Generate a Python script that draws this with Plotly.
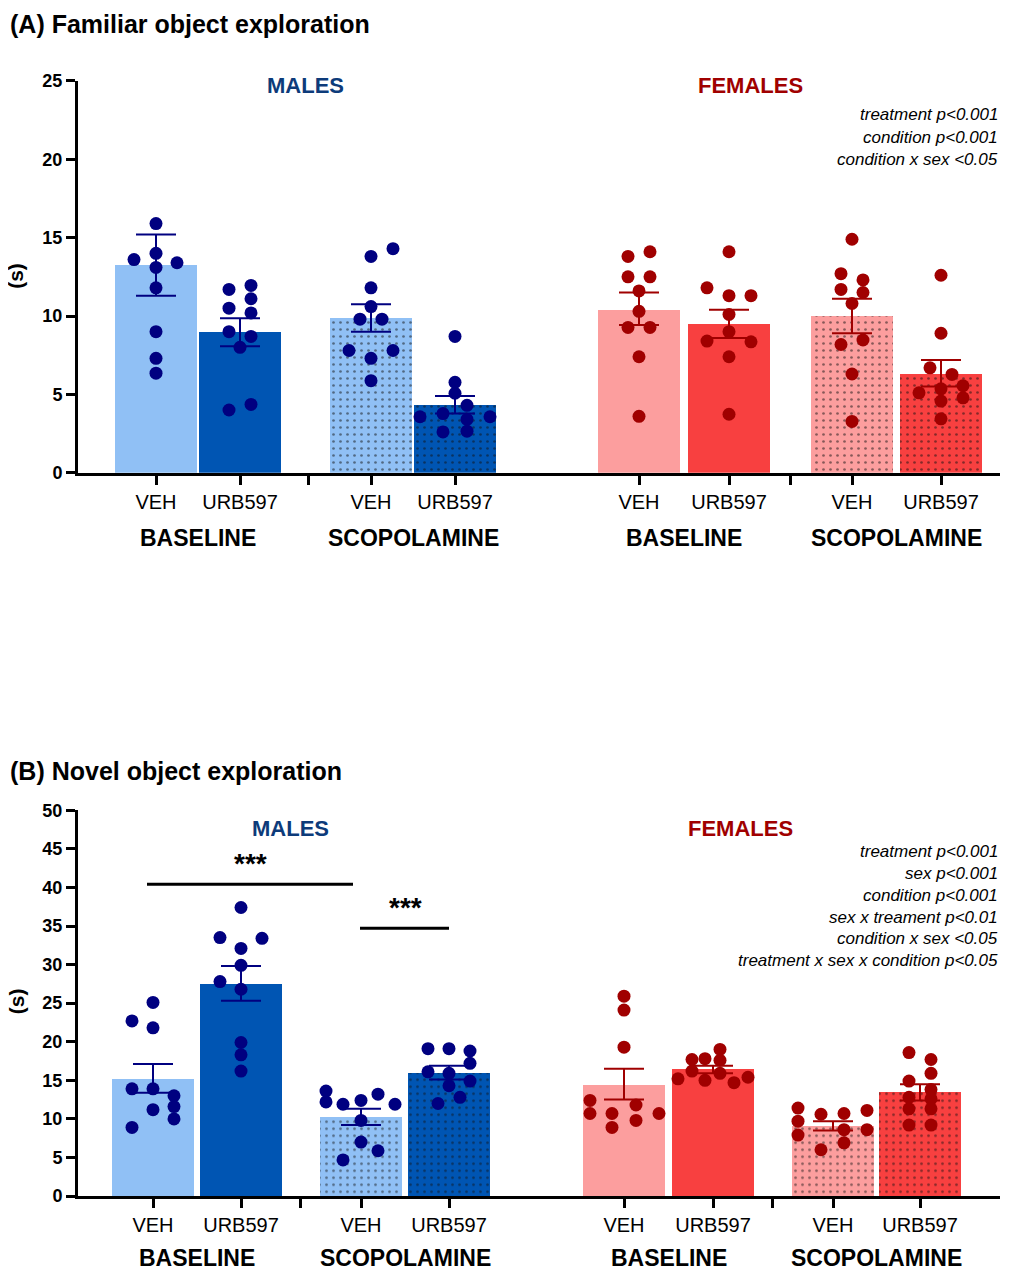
import plotly.graph_objects as go

# group order: M-BL-VEH, M-BL-URB, M-SC-VEH, M-SC-URB, F-BL-VEH, F-BL-URB, F-SC-VEH, F-SC-URB
groups = ["M_BL_VEH", "M_BL_URB", "M_SC_VEH", "M_SC_URB",
          "F_BL_VEH", "F_BL_URB", "F_SC_VEH", "F_SC_URB"]

# (A) familiar object exploration (s)
fam_mean = [13.25, 8.95, 9.85, 4.34, 10.4, 9.52, 9.98, 6.29]
fam_upper = [15.2, 9.85, 10.75, 4.9, 11.5, 10.4, 11.1, 7.19]
fam_lower = [11.3, 8.07, 9.0, 3.77, 9.43, 8.6, 8.9, 5.5]
fam_dots = [
    [15.9, 14.0, 13.6, 13.4, 13.1, 11.8, 9.0, 7.3, 6.35],
    [11.7, 11.95, 11.1, 10.5, 10.2, 9.0, 8.7, 8.0, 4.36, 4.0],
    [14.3, 13.8, 11.8, 10.6, 9.8, 9.8, 7.8, 7.8, 7.3, 5.87],
    [8.7, 5.77, 5.07, 4.3, 3.77, 3.57, 3.57, 3.4, 2.6, 2.65],
    [13.8, 14.1, 12.5, 12.5, 11.6, 10.3, 9.27, 9.27, 7.4, 3.6],
    [14.1, 11.8, 11.3, 11.3, 10.1, 9.0, 8.4, 8.35, 7.4, 3.73],
    [14.9, 12.7, 12.3, 11.7, 11.5, 10.8, 8.18, 8.47, 6.3, 3.27],
    [12.6, 8.9, 6.69, 6.27, 5.55, 5.35, 5.1, 4.78, 4.57, 3.44],
]
fam_jitter = [
    [0, 0, -22, 21, 0, 0, 0, 0, 0],
    [-11, 11, 11, -11, 11, -11, 11, 0, 11, -11],
    [22, 0, 0, 0, -11, 11, -22, 22, 0, 0],
    [0, 0, 0, 12, -12, -35, 35, 12, -12, 12],
    [-11, 11, -11, 11, 0, 0, -11, 11, 0, 0],
    [0, -22, 0, 22, 0, 0, -22, 22, 0, 0],
    [0, -11, 11, -11, 11, 0, -11, 11, 0, 0],
    [0, 0, -11, 11, 22, 0, -22, 22, 0, 0],
]

# (B) novel object exploration (s)
nov_mean = [15.2, 27.5, 10.2, 15.9, 14.4, 16.4, 9.1, 13.4]
nov_upper = [17.1, 29.8, 11.3, 16.9, 16.5, 16.9, 9.7, 14.5]
nov_lower = [13.4, 25.3, 9.2, 15.1, 12.5, 15.9, 8.5, 12.4]
nov_dots = [
    [25.1, 22.7, 21.8, 13.9, 13.9, 13.0, 11.6, 11.2, 10.0, 8.9],
    [37.4, 33.5, 33.4, 32.1, 29.9, 27.8, 26.8, 19.9, 18.3, 16.2],
    [13.6, 12.2, 11.9, 12.4, 13.2, 11.9, 9.8, 7.0, 5.87, 4.68],
    [19.1, 19.1, 18.8, 17.2, 16.1, 15.9, 14.9, 14.3, 12.8, 12.0],
    [25.9, 24.1, 19.3, 12.4, 10.7, 11.8, 10.7, 10.7, 9.8, 8.9],
    [19.0, 17.7, 17.8, 17.6, 16.2, 15.9, 15.2, 15.0, 15.4, 14.7],
    [11.4, 10.6, 10.7, 11.1, 9.7, 8.6, 8.6, 7.9, 6.9, 6.0],
    [18.6, 17.7, 15.9, 14.9, 13.8, 12.8, 12.6, 11.3, 11.3, 9.2, 9.2],
]
nov_jitter = [
    [0, -21, 0, -21, 0, 21, 21, 0, 21, -21],
    [0, -21, 21, 0, 0, -21, 0, 0, 0, 0],
    [-35, -35, -18, 0, 17, 34, 0, 0, 17, -18],
    [-21, 0, 21, 21, -21, 0, 21, 0, 11, -11],
    [0, 0, 0, -34, -34, 12, -12, 35, 12, -12],
    [7, -21, -8, 7, -21, 7, -35, -8, 35, 21],
    [-35, -12, 11, 34, -35, 11, 34, -35, 11, -12],
    [-11, 11, 11, -11, 11, -11, 11, -11, 11, -11, 11],
]

tick_text = ["VEH", "URB597"] * 4
cond_labels = ["BASELINE", "SCOPOLAMINE", "BASELINE", "SCOPOLAMINE"]
fam_stats = ["treatment p<0.001", "condition p<0.001", "condition x sex <0.05"]
nov_stats = ["treatment p<0.001", "sex p<0.001", "condition p<0.001",
             "sex x treament p<0.01", "condition x sex <0.05",
             "treatment x sex x condition p<0.05"]

bar_fill = ["#90c0f5", "#0055b3", "#90c0f5", "#0055b3",
            "#fc9e9e", "#f84040", "#fc9e9e", "#f84040"]
dot_col = ["#000080"] * 4 + ["#a00000"] * 4
dotted = [False, False, True, True, False, False, True, True]

# figure is placed inside an 8px page margin; layout coordinates below are page pixels
OFF = 8
FW, FH = 1030 - 2 * OFF, 1280 - 2 * OFF
fig = go.Figure()


def xfrac(px):
    return (px - OFF) / FW


def yfrac(px):
    return 1 - (px - OFF) / FH


def add_panel(xa, ya, centers, means, upper, lower, dots, jit):
    for i in range(8):
        fig.add_trace(go.Bar(
            x=[centers[i]], y=[means[i]], width=82, xaxis=xa, yaxis=ya,
            marker=dict(color=bar_fill[i], line=dict(width=0),
                        pattern=dict(shape="." if dotted[i] else "", fgcolor="#111111",
                                     size=7, solidity=0.12)),
            showlegend=False, hoverinfo="skip"))
    for i in range(8):
        fig.add_trace(go.Scatter(
            x=[centers[i] + j for j in jit[i]], y=dots[i], mode="markers",
            xaxis=xa, yaxis=ya, showlegend=False,
            marker=dict(color=dot_col[i], size=13)))
        fig.add_trace(go.Scatter(
            x=[centers[i]], y=[means[i]], mode="markers", xaxis=xa, yaxis=ya,
            marker=dict(size=0.1, color=dot_col[i]), showlegend=False,
            error_y=dict(type="data", symmetric=False,
                         array=[upper[i] - means[i]], arrayminus=[means[i] - lower[i]],
                         color=dot_col[i], thickness=2, width=20)))


top_centers = [156, 240, 371, 455, 639, 729, 852, 941]
bot_centers = [153, 241, 361, 449, 624, 713, 833, 920]
add_panel("x", "y", top_centers, fam_mean, fam_upper, fam_lower, fam_dots, fam_jitter)
add_panel("x2", "y2", bot_centers, nov_mean, nov_upper, nov_lower, nov_dots, nov_jitter)

xcommon = dict(range=[78, 1000], showgrid=False, zeroline=False, showline=True,
               linecolor="black", linewidth=3, ticks="outside", ticklen=9,
               tickwidth=3, tickcolor="black", domain=[xfrac(78), xfrac(1000)],
               tickfont=dict(family="Arial, Liberation Sans", size=20, color="black"))
ycommon = dict(showgrid=False, zeroline=False, showline=True, linecolor="black",
               linewidth=3, ticks="outside", ticklen=9, tickwidth=3, tickcolor="black",
               tickfont=dict(family="Arial, Liberation Sans", size=18, color="black",
                             weight="bold"))

fig.update_layout(
    width=FW, height=FH, margin=dict(l=0, r=0, t=0, b=0),
    plot_bgcolor="white", paper_bgcolor="white", bargap=0,
    xaxis=dict(**xcommon, anchor="y",
               tickvals=top_centers + [308, 790], ticktext=tick_text + ["", ""]),
    yaxis=dict(**ycommon, range=[0, 25], dtick=5, anchor="x",
               domain=[yfrac(470), yfrac(72)]),
    xaxis2=dict(**xcommon, anchor="y2",
                tickvals=bot_centers + [300, 772], ticktext=tick_text + ["", ""]),
    yaxis2=dict(**ycommon, range=[0, 50], dtick=5, anchor="x2",
                domain=[yfrac(1205), yfrac(813)]),
)

ann = []


def txt(x, y, s, size, color="black", xanchor="center", italic=False, bolded=True, angle=0):
    if bolded:
        s = "<b>" + s + "</b>"
    if italic:
        s = "<i>" + s + "</i>"
    ann.append(dict(x=xfrac(x), y=yfrac(y), xref="paper", yref="paper", text=s,
                    showarrow=False, xanchor=xanchor, yanchor="middle", textangle=angle,
                    font=dict(family="Arial, Liberation Sans", size=size, color=color)))


txt(8, 14, "(A) Familiar object exploration", 25, xanchor="left")
txt(8, 773, "(B) Novel object exploration", 25, xanchor="left")
txt(305, 77, "MALES", 22, color="#0d3b7a")
txt(750, 77, "FEMALES", 22, color="#a00000")
txt(290, 832, "MALES", 22, color="#0d3b7a")
txt(740, 832, "FEMALES", 22, color="#a00000")
txt(16, 270, "(s)", 21, angle=-90)
txt(16, 1007, "(s)", 21, angle=-90)
for k, lab in enumerate(cond_labels):
    txt((top_centers[2 * k] + top_centers[2 * k + 1]) / 2, 536, lab, 23)
    txt((bot_centers[2 * k] + bot_centers[2 * k + 1]) / 2, 1268, lab, 23)
for k, s in enumerate(fam_stats):
    txt(1000, 106 + 23 * k, s, 17, xanchor="right", italic=True, bolded=False)
for k, s in enumerate(nov_stats):
    txt(1000, 855 + 22.2 * k, s, 17, xanchor="right", italic=True, bolded=False)

fig.add_shape(type="line", xref="x2", yref="y2", x0=147, x1=353, y0=40.4, y1=40.4,
              line=dict(color="black", width=3))
fig.add_shape(type="line", xref="x2", yref="y2", x0=360, x1=449, y0=34.7, y1=34.7,
              line=dict(color="black", width=3))
ann.append(dict(x=250, y=40.8, xref="x2", yref="y2", text="<b>***</b>", showarrow=False,
                yanchor="bottom", font=dict(family="Arial", size=28, color="black")))
ann.append(dict(x=405, y=35.1, xref="x2", yref="y2", text="<b>***</b>", showarrow=False,
                yanchor="bottom", font=dict(family="Arial", size=28, color="black")))
fig.update_layout(annotations=ann)

fig.write_html("out.html")
